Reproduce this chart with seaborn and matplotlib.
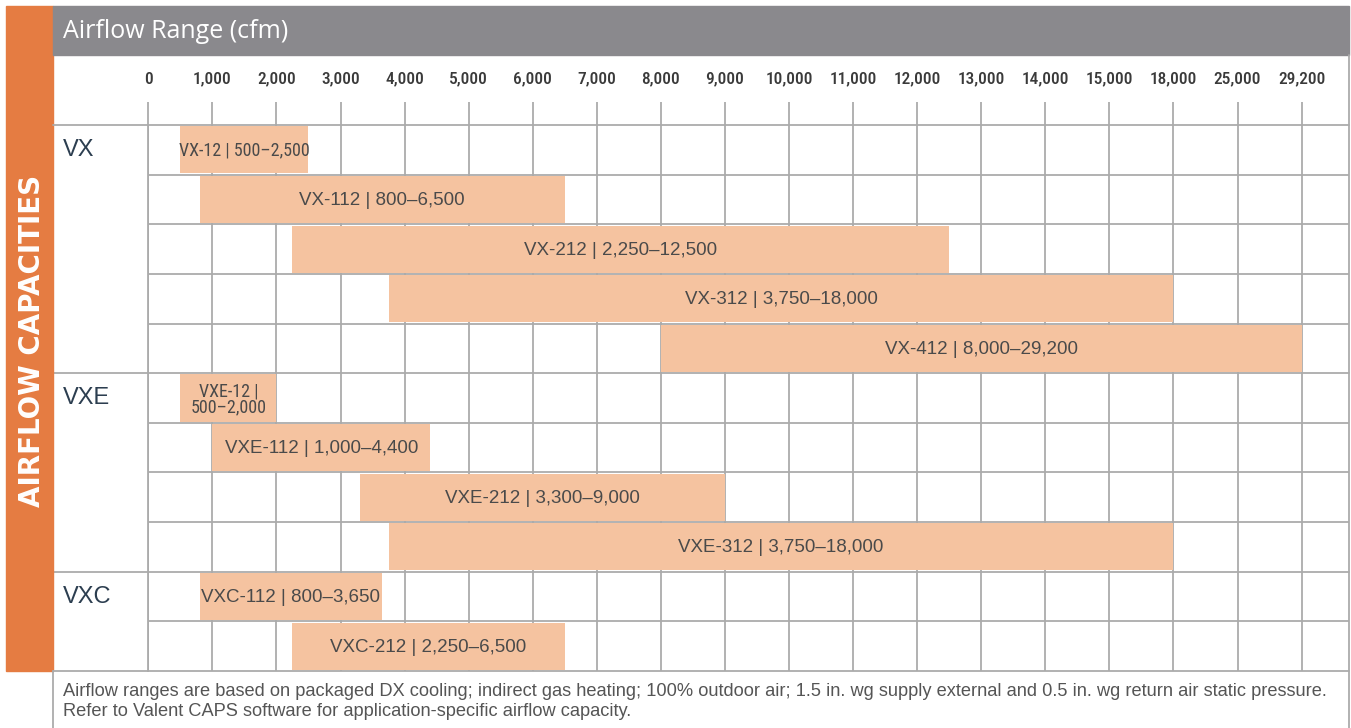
import numpy as np
import matplotlib
matplotlib.use("Agg")
import matplotlib.pyplot as plt
from matplotlib import font_manager
from matplotlib.font_manager import FontProperties
from matplotlib.lines import Line2D
from matplotlib.patches import Rectangle
import seaborn as sns

# ---------------- data ----------------
models = ["VX-12", "VX-112", "VX-212", "VX-312", "VX-412",
          "VXE-12", "VXE-112", "VXE-212", "VXE-312",
          "VXC-112", "VXC-212"]
series = ["VX"] * 5 + ["VXE"] * 4 + ["VXC"] * 2
cfm_low = [500, 800, 2250, 3750, 8000, 500, 1000, 3300, 3750, 800, 2250]
cfm_high = [2500, 6500, 12500, 18000, 29200, 2000, 4400, 9000, 18000, 3650, 6500]
bar_labels = ["VX-12 | 500–2,500", "VX-112 | 800–6,500", "VX-212 | 2,250–12,500",
              "VX-312 | 3,750–18,000", "VX-412 | 8,000–29,200",
              "VXE-12 |\n500–2,000", "VXE-112 | 1,000–4,400", "VXE-212 | 3,300–9,000",
              "VXE-312 | 3,750–18,000", "VXC-112 | 800–3,650", "VXC-212 | 2,250–6,500"]
tick_values = [0, 1000, 2000, 3000, 4000, 5000, 6000, 7000, 8000, 9000, 10000,
               11000, 12000, 13000, 14000, 15000, 18000, 25000, 29200]
tick_labels = ["0", "1,000", "2,000", "3,000", "4,000", "5,000", "6,000", "7,000",
               "8,000", "9,000", "10,000", "11,000", "12,000", "13,000", "14,000",
               "15,000", "18,000", "25,000", "29,200"]
header_text = "Airflow Range (cfm)"
side_text = "AIRFLOW CAPACITIES"
footnote = ("Airflow ranges are based on packaged DX cooling; indirect gas heating; 100% outdoor air; "
            "1.5 in. wg supply external and 0.5 in. wg return air static pressure.\n"
            "Refer to Valent CAPS software for application-specific airflow capacity.")

# ---------------- style ----------------
sns.set_theme(style="white")
fl = font_manager.fontManager.ttflist
names = {f.name for f in fl}
base = "Liberation Sans" if "Liberation Sans" in names else "DejaVu Sans"
head_font = "Open Sans" if "Open Sans" in names else base
plt.rcParams["font.family"] = [base, "DejaVu Sans"]


def wnum(w):
    if isinstance(w, (int, float)):
        return int(w)
    return font_manager.weight_dict.get(str(w), 400)


def find_font(prefs):
    for nm, stretch_req, wmin, wmax in prefs:
        for f in fl:
            if f.name != nm or f.style != "normal":
                continue
            if stretch_req and f.stretch not in ("condensed", "semi-condensed"):
                continue
            if wmin <= wnum(f.weight) <= wmax:
                return f.fname
    return None


cond_reg = find_font([("Roboto Condensed", False, 350, 450),
                      ("Liberation Sans Narrow", False, 350, 450),
                      ("DejaVu Sans", True, 350, 450)])
cond_med = find_font([("Roboto Condensed", False, 480, 560),
                      ("Roboto Condensed", False, 600, 750),
                      ("Liberation Sans Narrow", False, 600, 750),
                      ("DejaVu Sans", True, 600, 750)])


def fp(path, size, fallback_size, weight="normal"):
    if path:
        p = FontProperties(fname=path)
        p.set_size(size)
        return p
    return FontProperties(family=[base, "DejaVu Sans"], size=fallback_size, weight=weight)


ORANGE = "#E57C42"
HEADER = "#8A898D"
BAR = "#F5C3A0"
GRID = "#ABABAB"
TXT = "#4A4A4A"
NAVY = "#2C3E50"

W, H = 1351, 728
fig = plt.figure(figsize=(W / 100, H / 100), dpi=100)
fig.patch.set_facecolor("white")


def fx(px):
    return px / W


def fy(py):
    return 1 - py / H


# piecewise-linear (equal spacing per tick) x-scale
ext_vals = np.array([-1000.0] + tick_values + [29200 + 4200])
ext_idx = np.arange(-1, len(tick_values) + 1, dtype=float)


def fwd(x):
    return np.interp(np.asarray(x, float), ext_vals, ext_idx)


def inv(i):
    return np.interp(np.asarray(i, float), ext_idx, ext_vals)


# decorative header / side band
fig.patches.append(Rectangle((fx(6), fy(671)), fx(53) - fx(6), fy(6) - fy(671),
                             transform=fig.transFigure, color=ORANGE, zorder=0))
fig.patches.append(Rectangle((fx(53), fy(55)), fx(1349) - fx(53), fy(6) - fy(55),
                             transform=fig.transFigure, color=HEADER, zorder=0))
fig.text(fx(63), fy(32), header_text, color="white", fontsize=18, va="center", ha="left",
         family=[head_font, "DejaVu Sans"])
fig.text(fx(32), fy(341), side_text, color="white", fontsize=20, fontweight="bold",
         rotation=90, va="center", ha="center", family=["DejaVu Sans"])

# frame lines
for (x0, y0, x1, y1) in [(53, 125, 1349, 125), (53, 671, 1349, 671),
                         (1349, 55, 1349, 728), (53, 671, 53, 728)]:
    fig.lines.append(Line2D([fx(x0), fx(x1)], [fy(y0), fy(y1)], transform=fig.transFigure,
                            color=GRID, lw=1.3, zorder=1))

# ---------------- main axes ----------------
L, R, T, B = 148.3, 1349, 125, 671
ax = fig.add_axes([fx(L), fy(B), fx(R) - fx(L), fy(T) - fy(B)])
ax.set_xscale("function", functions=(fwd, inv))
n = len(models)
ax.set_xlim(0, float(inv(18.74)))
ax.set_ylim(n - 0.5, -0.5)
ax.set_facecolor("white")

# grid
for v in tick_values:
    ax.axvline(v, color=GRID, lw=1.3, zorder=0)
group_starts = [i for i in range(n) if i == 0 or series[i] != series[i - 1]]
for b in range(1, n):
    if b in group_starts:
        ax.plot([-0.0794, 1], [b - 0.5, b - 0.5], transform=ax.get_yaxis_transform(),
                color=GRID, lw=1.3, clip_on=False, zorder=0)
    else:
        ax.axhline(b - 0.5, color=GRID, lw=1.3, zorder=0)

# bars
rows = np.arange(n)
ax.barh(rows, np.array(cfm_high) - np.array(cfm_low), left=cfm_low, height=0.95,
        color=BAR, edgecolor="none", zorder=2)

for i in range(n):
    mid = float(inv((fwd(cfm_low[i]) + fwd(cfm_high[i])) / 2))
    if models[i] == "VX-12":
        ax.text(mid, i + 0.02, bar_labels[i], ha="center", va="center", color=TXT, zorder=3,
                fontproperties=fp(cond_reg, 13, 10.5))
    elif models[i] == "VXE-12":
        ax.text(mid, i + 0.02, bar_labels[i], ha="center", va="center", color=TXT, zorder=3,
                linespacing=0.85, fontproperties=fp(cond_reg, 13, 10.5))
    else:
        ax.text(mid, i + 0.02, bar_labels[i], ha="center", va="center", color=TXT,
                fontsize=13.5, zorder=3)

# group labels
for g in group_starts:
    ax.text(-0.0712, g, series[g], transform=ax.get_yaxis_transform(), ha="left",
            va="center", fontsize=17, color=NAVY)

# ticks on top
ax.set_xticks(tick_values)
ax.set_xticklabels(tick_labels, color="#3A3A3A",
                   fontproperties=fp(cond_med, 12.5, 11, weight="bold"))
ax.tick_params(axis="x", top=True, bottom=False, labeltop=True, labelbottom=False,
               length=16.5, width=1.3, color=GRID, direction="out", pad=11)
ax.set_yticks([])
ax.xaxis.set_minor_locator(matplotlib.ticker.NullLocator())
for s in ["top", "bottom", "right"]:
    ax.spines[s].set_visible(False)
ax.spines["left"].set_color(GRID)
ax.spines["left"].set_linewidth(1.3)

# footnote
fig.text(fx(63), fy(701.5), footnote, color="#555555", fontsize=13.15, ha="left",
         va="center", linespacing=1.22)

fig.savefig("out.png", dpi=100, facecolor="white")
